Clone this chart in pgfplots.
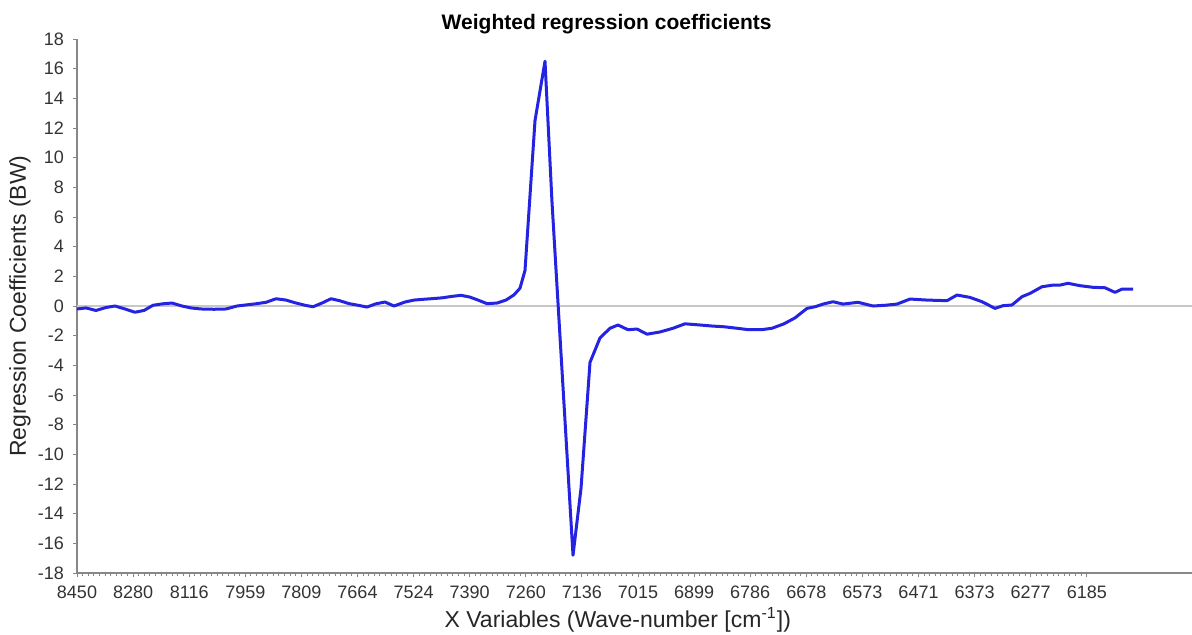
\documentclass[border=0pt]{standalone}
\usepackage{fontspec}
\setmainfont{Liberation Sans}
\usepackage{pgfplots}
\pgfplotsset{compat=1.18}
\usepackage{pgfplotstable}
\definecolor{lineblue}{RGB}{35,35,225}
\definecolor{axgray}{RGB}{135,135,135}
\definecolor{zerogray}{RGB}{200,200,200}
\pgfplotstableread{
x y
77 -0.2
86 -0.13
96 -0.3
106 -0.1
115 0.0
125 -0.2
135 -0.42
144 -0.3
153 0.05
163 0.15
172 0.2
182 0.0
191 -0.13
201 -0.2
214 -0.22
226 -0.2
237 0.0
247 0.08
256 0.15
266 0.25
276 0.49
286 0.4
295 0.22
305 0.05
313 -0.05
322 0.2
331 0.49
340 0.35
349 0.16
358 0.05
367 -0.07
376 0.15
385 0.27
394 0.0
405 0.27
414 0.4
423 0.45
433 0.5
442 0.55
452 0.65
461 0.72
470 0.6
478 0.4
487 0.16
497 0.2
506 0.4
514 0.75
520 1.2
525 2.4
535 12.5
545 16.5
552 7.0
573 -16.8
581 -12.3
590 -3.8
600 -2.15
610 -1.5
618 -1.28
628 -1.6
637 -1.55
647 -1.9
660 -1.75
673 -1.5
685 -1.2
700 -1.28
712 -1.35
724 -1.4
737 -1.5
749 -1.6
761 -1.6
772 -1.5
784 -1.2
795 -0.8
807 -0.16
815 -0.05
823 0.13
833 0.29
843 0.13
858 0.25
873 0.0
885 0.05
897 0.13
910 0.47
927 0.4
947 0.36
957 0.74
970 0.58
982 0.29
995 -0.16
1003 0.02
1012 0.07
1022 0.63
1030 0.85
1042 1.3
1053 1.41
1060 1.41
1068 1.53
1080 1.37
1093 1.26
1105 1.23
1115 0.92
1122 1.14
1133 1.14
}\coeffs
\begin{document}
\begin{tikzpicture}
\begin{axis}[
  scale only axis,
  width=557.5pt, height=267pt,
  xmin=77, xmax=1192, ymin=-18, ymax=18,
  axis x line*=bottom, axis y line*=left,
  axis line style={axgray, line width=0.8pt, -},
  xtick={77,133.1,189.2,245.3,301.4,357.5,413.6,469.7,525.8,581.9,638,694.1,750.2,806.3,862.4,918.5,974.6,1030.7,1086.8},
  xticklabels={8450,8280,8116,7959,7809,7664,7524,7390,7260,7136,7015,6899,6786,6678,6573,6471,6373,6277,6185},
  minor x tick num=9,
  ytick={-18,-16,...,18},
  tick align=outside,
  major tick length=2pt, minor tick length=1.5pt,
  tick style={axgray, line width=0.5pt},
  every tick label/.append style={font=\fontsize{9}{10}\selectfont, text=black!80},
  /pgf/number format/assume math mode=true,
  xticklabel style={yshift=-1pt},
  yticklabel style={xshift=-1pt},
  title={\textbf{Weighted regression coefficients}},
  title style={at={(axis description cs:0.475,1)}, anchor=center, yshift=1.5pt, font=\fontsize{10.5}{12}\selectfont},
  xlabel={X Variables (Wave-number [cm\textsuperscript{-1}])},
  xlabel style={at={(axis description cs:0.485,0)}, anchor=center, yshift=-23.5pt, font=\fontsize{11.5}{13}\selectfont, text=black!85},
  ylabel={Regression Coefficients (BW)},
  ylabel style={at={(axis description cs:-0.0511,0.5)}, anchor=center, font=\fontsize{11.5}{13}\selectfont, text=black!85},
  clip=false,
]
\draw[zerogray, line width=0.6pt] (axis cs:77,0) -- (axis cs:1192,0);
\addplot[lineblue, line width=1.5pt, line join=round] table[x=x,y=y] {\coeffs};
\end{axis}
\pgfresetboundingbox
\path (-38.5pt,-30.5pt) rectangle (557.5pt,286.5pt);
\end{tikzpicture}
\end{document}
